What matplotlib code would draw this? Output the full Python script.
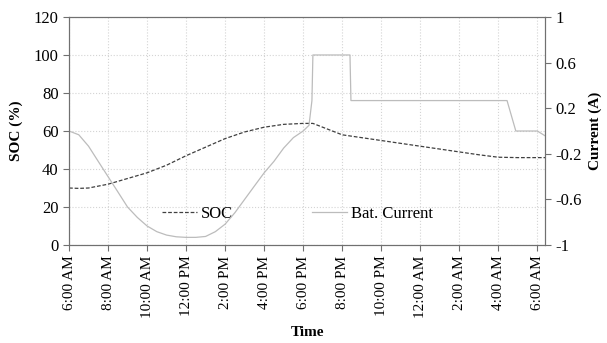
import matplotlib
matplotlib.use("Agg")
import matplotlib.pyplot as plt

plt.rcParams['font.family'] = ['Liberation Serif', 'DejaVu Serif']

# hours after 6:00 AM
soc_hours = [0, 0.5, 1, 2, 3, 4, 5, 6, 7, 8, 9, 10, 11, 12, 12.5, 13, 14, 15, 16,
             17, 18, 19, 20, 21, 22, 23, 24, 24.4]
soc_vals = [30, 29.8, 30, 32, 35, 38, 42, 47, 51.5, 56, 59.5, 62, 63.5, 64, 64, 62,
            58, 56.5, 55, 53.5, 52, 50.5, 49, 47.5, 46.2, 46, 46, 46]

cur_hours = [0, 0.5, 1, 1.5, 2, 2.5, 3, 3.5, 4, 4.5, 5, 5.5, 6, 6.5, 7, 7.5, 8, 8.5,
             9, 9.5, 10, 10.5, 11, 11.5, 12, 12.3, 12.45, 12.5, 14.4, 14.45, 22.45,
             22.9, 24, 24.4]
cur_vals = [0, -0.033, -0.133, -0.267, -0.4, -0.533, -0.667, -0.758, -0.833, -0.883,
            -0.913, -0.928, -0.933, -0.933, -0.925, -0.883, -0.817, -0.717, -0.6,
            -0.483, -0.367, -0.267, -0.15, -0.058, 0, 0.05, 0.267, 0.667, 0.667,
            0.267, 0.267, 0, 0, -0.042]

tick_hours = list(range(0, 25, 2))
tick_labels = ["6:00 AM", "8:00 AM", "10:00 AM", "12:00 PM", "2:00 PM", "4:00 PM",
               "6:00 PM", "8:00 PM", "10:00 PM", "12:00 AM", "2:00 AM", "4:00 AM",
               "6:00 AM"]

fig = plt.figure(figsize=(6.07, 3.43), dpi=100)
ax = fig.add_axes([0.1137, 0.2857, 0.898 - 0.1137, 0.9504 - 0.2857])
ax2 = ax.twinx()

l1, = ax.plot(soc_hours, soc_vals, color="#404040", lw=0.9, ls=(0, (3, 1.5)), label="SOC")
l2, = ax2.plot(cur_hours, cur_vals, color="#bcbcbc", lw=0.9, label="Bat. Current")

ax.set_xlim(0, 24.4)
ax.set_ylim(0, 120)
ax.set_yticks(range(0, 121, 20))
ax2.set_ylim(-1, 1)
ax2.set_yticks([-1, -0.6, -0.2, 0.2, 0.6, 1])
ax2.set_yticklabels(["-1", "-0.6", "-0.2", "0.2", "0.6", "1"])
ax.set_xticks(tick_hours)
ax.set_xticklabels(tick_labels, rotation=90)

ax.grid(True, color="#d4d4d4", ls=":", lw=0.8)
ax.set_axisbelow(True)

for a in (ax, ax2):
    for s in a.spines.values():
        s.set_color("#707070")
    a.tick_params(colors="#707070", labelcolor="black", labelsize=12, length=4)
ax.tick_params(axis="x", labelsize=11)

ax.set_xlabel("Time", fontweight="bold", fontsize=11, labelpad=6)
ax.set_ylabel("SOC (%)", fontweight="bold", fontsize=11, labelpad=8)
ax2.set_ylabel("Current (A)", fontweight="bold", fontsize=11, labelpad=5)

ax.legend([l1, l2], ["SOC", "Bat. Current"], loc="center", bbox_to_anchor=(0.48, 0.136),
          ncol=2, frameon=False, fontsize=12, handlelength=2.1, columnspacing=4.7,
          handletextpad=0.25)

fig.savefig("out.png", dpi=100)
